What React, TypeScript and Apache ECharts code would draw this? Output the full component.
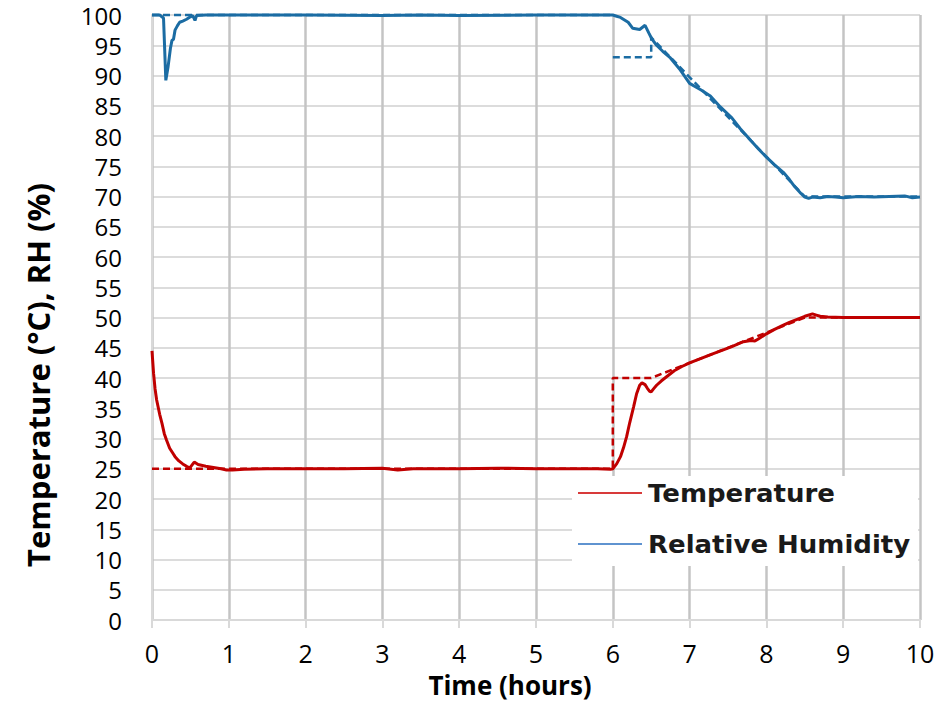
import React, { useEffect, useRef } from "react";
import * as echarts from "echarts";

// Measured temperature (°C) over time (hours)
const temperature: [number, number][] = [
  [0, 44.5], [0.02, 40.8], [0.04, 38.2], [0.06, 36.4], [0.1, 34], [0.13, 32.5],
  [0.16, 30.8], [0.19, 29.7], [0.23, 28.4], [0.27, 27.6], [0.3, 27], [0.35, 26.3],
  [0.4, 25.8], [0.45, 25.4], [0.49, 25.1], [0.52, 25.6], [0.55, 26.1], [0.6, 25.7],
  [0.7, 25.4], [0.8, 25.2], [0.9, 25], [0.97, 24.8], [1.05, 24.8], [1.2, 24.9],
  [1.5, 25], [2, 25], [2.5, 25], [3, 25.1], [3.2, 24.8], [3.4, 25], [4, 25],
  [4.5, 25.1], [5, 25], [5.5, 25], [5.8, 25], [5.97, 24.9], [6.0, 25.0],
  [6.05, 25.8], [6.1, 27], [6.14, 28.5], [6.18, 30.3], [6.22, 32.6], [6.27, 35.2],
  [6.31, 37.4], [6.35, 38.8], [6.38, 39.2], [6.42, 38.9], [6.45, 38.3], [6.48, 37.8],
  [6.5, 37.7], [6.53, 38.2], [6.57, 38.8], [6.63, 39.5], [6.7, 40.2], [6.8, 41.2],
  [6.9, 41.9], [7.0, 42.5], [7.1, 43], [7.2, 43.5], [7.3, 44], [7.43, 44.6],
  [7.55, 45.2], [7.7, 46], [7.8, 46.2], [7.85, 46.1], [7.9, 46.5], [8.0, 47.3],
  [8.1, 48], [8.2, 48.6], [8.3, 49.2], [8.4, 49.7], [8.5, 50.2], [8.6, 50.6],
  [8.65, 50.4], [8.7, 50.2], [8.8, 50.1], [9, 50], [9.5, 50], [10, 50],
];

// Temperature set point (°C)
const temperatureSetpoint: [number, number][] = [
  [0, 25], [6, 25], [6, 40], [6.5, 40], [8.5, 50], [10, 50],
];

// Measured relative humidity (%)
const humidity: [number, number][] = [
  [0, 100], [0.1, 100], [0.15, 99.5], [0.18, 89.2], [0.21, 91.5], [0.24, 94.5],
  [0.26, 95.8], [0.28, 96], [0.3, 97.5], [0.33, 98.2], [0.36, 98.8], [0.4, 99],
  [0.45, 99.3], [0.5, 99.7], [0.53, 99.9], [0.56, 99.1], [0.58, 99.9], [0.7, 100],
  [1, 100], [2, 100], [3, 99.9], [3.5, 100], [4, 99.9], [5, 100], [6, 100],
  [6.05, 99.8], [6.1, 99.6], [6.2, 98.8], [6.26, 97.8], [6.35, 97.6], [6.42, 98.3],
  [6.47, 97], [6.51, 96], [6.57, 95], [6.65, 94], [6.75, 92.9], [6.88, 90.9],
  [7.0, 88.7], [7.15, 87.6], [7.27, 86.6], [7.4, 84.8], [7.55, 83], [7.66, 81.2],
  [7.8, 79.2], [7.9, 77.8], [8.0, 76.5], [8.1, 75.3], [8.22, 74], [8.3, 72.8],
  [8.37, 71.6], [8.45, 70.5], [8.5, 69.9], [8.55, 69.7], [8.6, 69.9], [8.7, 69.8],
  [8.8, 70], [8.9, 69.9], [9, 69.8], [9.2, 70], [9.4, 69.9], [9.6, 70],
  [9.8, 70.1], [9.9, 69.8], [10, 69.9],
];

// Relative humidity set point (%); "-" breaks the line at the 6 h step
const humiditySetpoint: [number, number | string][] = [
  [0, 100], [6, 100], [6, "-"], [6, 93], [6.5, 93], [6.5, 96.3], [8.5, 70], [10, 70],
];

const legendItems = ["Temperature", "Relative Humidity"];

const RED = "#c00000";
const BLUE = "#1b6ca3";

export default function App() {
  const ref = useRef<HTMLDivElement>(null);

  useEffect(() => {
    if (!ref.current) return;
    const chart = echarts.init(ref.current, null, { renderer: "svg" });

    const solid = (name: string, data: any[], color: string) => ({
      name,
      type: "line",
      data,
      showSymbol: false,
      clip: false,
      lineStyle: { color, width: 3 },
      z: 3,
    });
    const dashed = (name: string, data: any[], color: string) => ({
      name,
      type: "line",
      data,
      showSymbol: false,
      clip: false,
      connectNulls: false,
      lineStyle: { color, width: 2.5, type: [7, 4] },
      z: 2,
    });

    chart.setOption({
      animation: false,
      backgroundColor: "#ffffff",
      grid: { left: 152, right: 31, top: 15, bottom: 83 },
      xAxis: {
        type: "value",
        min: 0,
        max: 10,
        interval: 1,
        axisLine: { lineStyle: { color: "#d9d9d9", width: 2 } },
        axisTick: { show: true, length: 8, lineStyle: { color: "#d9d9d9", width: 2 } },
        axisLabel: {
          color: "#000",
          fontSize: 25,
          lineHeight: 25,
          fontFamily: "Open Sans",
          margin: 20,
        },
        splitLine: { show: true, lineStyle: { color: "#c4c4c4", width: 2.5 } },
      },
      yAxis: {
        type: "value",
        min: 0,
        max: 100,
        interval: 5,
        axisLine: { show: true, lineStyle: { color: "#d9d9d9", width: 2 } },
        axisTick: { show: false },
        axisLabel: {
          color: "#000",
          fontSize: 24,
          lineHeight: 24,
          fontFamily: "Open Sans",
          margin: 30,
        },
        splitLine: { show: true, lineStyle: { color: "#dcdcdc", width: 2 } },
      },
      series: [
        dashed("Temperature set point", temperatureSetpoint, RED),
        dashed("Relative Humidity set point", humiditySetpoint, BLUE),
        solid(legendItems[0], temperature, RED),
        solid(legendItems[1], humidity, BLUE),
      ],
      graphic: [
        {
          type: "text",
          x: 38,
          y: 375,
          rotation: Math.PI / 2,
          style: {
            text: "Temperature (°C), RH (%)",
            fontSize: 31,
            fontWeight: "bold",
            fontFamily: "Open Sans",
            fill: "#000",
            align: "center",
            verticalAlign: "middle",
          },
        },
        {
          type: "text",
          x: 510,
          y: 685,
          style: {
            text: "Time (hours)",
            fontSize: 26,
            lineHeight: 28,
            fontWeight: "bold",
            fontFamily: "Open Sans",
            fill: "#000",
            align: "center",
            verticalAlign: "middle",
          },
        },
        {
          type: "rect",
          z: 100,
          shape: { x: 572, y: 476, width: 346, height: 90 },
          style: { fill: "#ffffff" },
        },
        {
          type: "line",
          z: 101,
          shape: { x1: 578, y1: 493, x2: 642, y2: 493 },
          style: { stroke: "#d83a3a", lineWidth: 2 },
        },
        {
          type: "text",
          z: 101,
          x: 648,
          y: 493,
          scaleX: 1.04,
          style: {
            text: legendItems[0],
            fontSize: 25,
            fontWeight: "bold",
            fontFamily: "DejaVu Sans",
            fill: "#1a1a1a",
            verticalAlign: "middle",
          },
        },
        {
          type: "line",
          z: 101,
          shape: { x1: 578, y1: 544, x2: 642, y2: 544 },
          style: { stroke: "#5f93d0", lineWidth: 2 },
        },
        {
          type: "text",
          z: 101,
          x: 648,
          y: 544,
          scaleX: 1.04,
          style: {
            text: legendItems[1],
            fontSize: 25,
            fontWeight: "bold",
            fontFamily: "DejaVu Sans",
            fill: "#1a1a1a",
            verticalAlign: "middle",
          },
        },
      ],
    });

    return () => chart.dispose();
  }, []);

  return (
    <div
      ref={ref}
      style={{ position: "fixed", left: 0, top: 0, width: 951, height: 703 }}
    />
  );
}
